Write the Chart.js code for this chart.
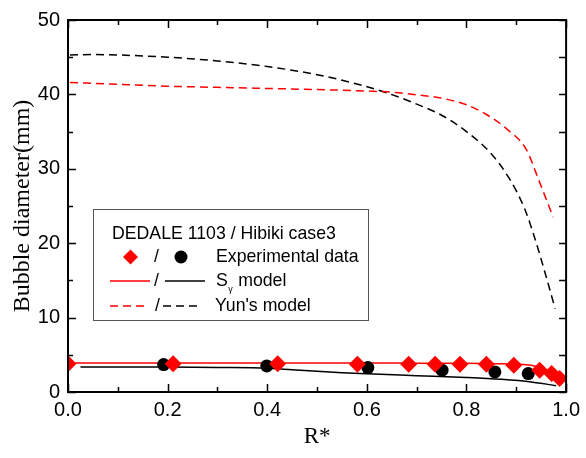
<!DOCTYPE html>
<html><head><meta charset="utf-8">
<script src="https://cdn.jsdelivr.net/npm/chart.js@4.4.1/dist/chart.umd.min.js"></script>
<style>html,body{margin:0;padding:0;background:#fff}</style>
</head><body>
<canvas id="c" width="586" height="458" style="width:586px;height:458px;display:block"></canvas>
<script>
// ---- tick labels ----
const xTickValues = [0, 0.2, 0.4, 0.6, 0.8, 1.0];
const xTickLabels = ['0.0', '0.2', '0.4', '0.6', '0.8', '1.0'];
const yTickValues = [0, 10, 20, 30, 40, 50];
const yTickLabels = ['0', '10', '20', '30', '40', '50'];

// ---- experimental data ----
const expRedX = [0.0, 0.211, 0.421, 0.581, 0.684, 0.737, 0.787, 0.84, 0.895, 0.947, 0.971, 0.987];
const expRedY = [3.8, 3.8, 3.8, 3.72, 3.72, 3.72, 3.72, 3.72, 3.6, 2.93, 2.48, 1.82];
const expBlackX = [0.192, 0.399, 0.602, 0.751, 0.857, 0.924];
const expBlackY = [3.68, 3.5, 3.28, 2.93, 2.7, 2.48];

// ---- S_gamma model ----
const sgRedX = [0.0, 0.1, 0.2, 0.3, 0.4, 0.5, 0.6, 0.7, 0.8, 0.86, 0.9, 0.93, 0.95, 0.97, 0.987];
const sgRedY = [3.9, 3.9, 3.9, 3.9, 3.9, 3.9, 3.9, 3.88, 3.85, 3.8, 3.75, 3.6, 3.2, 2.45, 1.7];
const sgBlackX = [0.025, 0.1, 0.2, 0.3, 0.4, 0.45, 0.5, 0.55, 0.6, 0.7, 0.8, 0.87, 0.93, 0.98];
const sgBlackY = [3.37, 3.37, 3.35, 3.3, 3.2, 3.0, 2.8, 2.6, 2.45, 2.2, 1.95, 1.7, 1.35, 0.85];

// ---- Yun's model ----
const yunRedX = [0.004, 0.1, 0.2, 0.3, 0.4, 0.5, 0.6, 0.65, 0.7, 0.75, 0.8, 0.84, 0.88, 0.92, 0.945, 0.974];
const yunRedY = [41.6, 41.35, 41.1, 40.95, 40.8, 40.65, 40.45, 40.3, 39.95, 39.5, 38.6, 37.3, 35.4, 32.6, 28.5, 23.5];
const yunBlackX = [0.004, 0.05, 0.1, 0.2, 0.3, 0.4, 0.5, 0.58, 0.64, 0.7, 0.75, 0.8, 0.85, 0.885, 0.917, 0.937, 0.957, 0.978];
const yunBlackY = [45.3, 45.35, 45.3, 45.0, 44.5, 43.75, 42.65, 41.4, 40.2, 38.7, 37.2, 35.0, 32.0, 28.8, 24.6, 20.7, 16.2, 11.2];

// ---- legend texts ----
const legendTitle = 'DEDALE 1103 / Hibiki case3';
const legendExp = 'Experimental data';
const legendSg = ['S', '\u03B3', ' model'];
const legendYun = "Yun's model";
const xTitle = 'R*';
const yTitle = 'Bubble diameter(mm)';

const pts = (xs, ys) => xs.map((v, i) => ({x: v, y: ys[i]}));
const SANS = '"Liberation Sans", Arial, sans-serif';
const SERIF = '"Liberation Serif", "Times New Roman", serif';
const LFONT = '17.7px ' + SANS;

const frameTicks = {
  id: 'frameTicks',
  afterDraw(chart) {
    const {ctx, chartArea: {left, right, top, bottom}, scales: {x, y}} = chart;
    ctx.save();
    ctx.strokeStyle = '#000';
    ctx.lineWidth = 1.5;
    ctx.beginPath();
    for (let i = 0; i <= 10; i++) {
      const v = i / 10;
      const px = Math.round(x.getPixelForValue(v)) + 0.5;
      const len = (i % 2 === 0) ? 8 : 5;
      ctx.moveTo(px, bottom); ctx.lineTo(px, bottom - len);
      ctx.moveTo(px, top); ctx.lineTo(px, top + len);
    }
    for (let i = 0; i <= 10; i++) {
      const v = i * 5;
      const py = Math.round(y.getPixelForValue(v)) + 0.5;
      const len = (i % 2 === 0) ? 8 : 5;
      ctx.moveTo(left, py); ctx.lineTo(left + len, py);
      ctx.moveTo(right, py); ctx.lineTo(right - 7, py);
    }
    ctx.stroke();
    ctx.lineWidth = 2;
    ctx.strokeRect(left, top, right - left, bottom - top);
    ctx.restore();
  }
};

const customLegend = {
  id: 'customLegend',
  afterDraw(chart) {
    const ctx = chart.ctx;
    ctx.save();
    const bx = 93.5, by = 209.5, bw = 275, bh = 111;
    ctx.fillStyle = '#fff';
    ctx.fillRect(bx, by, bw, bh);
    ctx.strokeStyle = '#555';
    ctx.lineWidth = 1;
    ctx.strokeRect(bx, by, bw, bh);
    ctx.fillStyle = '#000';
    ctx.font = LFONT;
    ctx.textBaseline = 'middle';
    ctx.textAlign = 'left';
    ctx.fillText(legendTitle, 112, 234);
    // row 2
    const r2 = 257;
    ctx.fillStyle = '#ff0000';
    ctx.beginPath();
    ctx.moveTo(130.5 - 7.5, r2); ctx.lineTo(130.5, r2 - 7.5); ctx.lineTo(130.5 + 7.5, r2); ctx.lineTo(130.5, r2 + 7.5);
    ctx.closePath(); ctx.fill();
    ctx.fillStyle = '#000';
    ctx.fillText('/', 154, r2);
    ctx.beginPath(); ctx.arc(181, r2, 6.5, 0, Math.PI * 2); ctx.fill();
    ctx.fillText(legendExp, 216, r2);
    // row 3
    const r3 = 281;
    ctx.lineWidth = 1.5;
    ctx.strokeStyle = '#ff0000';
    ctx.beginPath(); ctx.moveTo(110, r3); ctx.lineTo(150, r3); ctx.stroke();
    ctx.fillText('/', 154, r3);
    ctx.strokeStyle = '#000';
    ctx.beginPath(); ctx.moveTo(165, r3); ctx.lineTo(205, r3); ctx.stroke();
    ctx.fillText(legendSg[0], 216, r3);
    const sW = ctx.measureText(legendSg[0]).width;
    ctx.font = '9px ' + SANS;
    ctx.fillText(legendSg[1], 216 + sW + 0.5, r3 + 9);
    const gW = ctx.measureText(legendSg[1]).width;
    ctx.font = LFONT;
    ctx.fillText(legendSg[2], 216 + sW + gW + 1, r3);
    // row 4
    const r4 = 306;
    ctx.setLineDash([8, 5]);
    ctx.strokeStyle = '#ff0000';
    ctx.beginPath(); ctx.moveTo(110, r4); ctx.lineTo(145, r4); ctx.stroke();
    ctx.strokeStyle = '#000';
    ctx.beginPath(); ctx.moveTo(163, r4); ctx.lineTo(200, r4); ctx.stroke();
    ctx.setLineDash([]);
    ctx.fillText('/', 155, r4);
    ctx.fillText(legendYun, 215, r4);
    ctx.restore();
  }
};

const lineDs = (label, xs, ys, color, dash, order) => ({
  type: 'line', label, data: pts(xs, ys), borderColor: color, backgroundColor: color,
  borderWidth: 1.5, borderDash: dash, pointRadius: 0, fill: false,
  cubicInterpolationMode: 'monotone', order
});

new Chart(document.getElementById('c'), {
  type: 'scatter',
  data: {
    datasets: [
      {type: 'scatter', label: 'Exp red', data: pts(expRedX, expRedY), pointStyle: 'rectRot',
       pointRadius: 8.5, pointBackgroundColor: '#ff0000', pointBorderColor: '#ff0000', pointBorderWidth: 0, order: 1},
      {type: 'scatter', label: 'Exp black', data: pts(expBlackX, expBlackY), pointStyle: 'circle',
       pointRadius: 6.5, pointBackgroundColor: '#000', pointBorderColor: '#000', pointBorderWidth: 0, order: 2},
      lineDs('Sg red', sgRedX, sgRedY, '#ff0000', [], 3),
      lineDs('Sg black', sgBlackX, sgBlackY, '#000000', [], 4),
      lineDs('Yun red', yunRedX, yunRedY, '#ff0000', [8, 5], 5),
      lineDs('Yun black', yunBlackX, yunBlackY, '#000000', [8, 5], 6)
    ]
  },
  options: {
    responsive: false,
    animation: false,
    devicePixelRatio: 1,
    layout: {padding: {left: 0, top: 16, right: 18, bottom: 0}},
    plugins: {legend: {display: false}, tooltip: {enabled: false}},
    scales: {
      x: {
        type: 'linear', min: 0, max: 1,
        afterBuildTicks: s => { s.ticks = xTickValues.map(v => ({value: v})); },
        afterFit: s => { s.height = 66; },
        grid: {display: false, drawTicks: false},
        border: {display: false},
        ticks: {padding: 6, color: '#000', font: {family: SANS, size: 20},
                callback: (v) => xTickLabels[xTickValues.findIndex(t => Math.abs(t - v) < 1e-9)]},
        title: {display: true, text: xTitle, color: '#000', font: {family: SERIF, size: 23}, padding: {top: 0, bottom: 7}}
      },
      y: {
        type: 'linear', min: 0, max: 50,
        afterBuildTicks: s => { s.ticks = yTickValues.map(v => ({value: v})); },
        afterFit: s => { s.width = 68; },
        grid: {display: false, drawTicks: false},
        border: {display: false},
        ticks: {padding: 8, color: '#000', font: {family: SANS, size: 20},
                callback: (v) => yTickLabels[yTickValues.indexOf(v)]},
        title: {display: true, text: yTitle, color: '#000', font: {family: SERIF, size: 24}, padding: {top: 8, bottom: 0}}
      }
    }
  },
  plugins: [frameTicks, customLegend]
});
</script>
</body></html>
